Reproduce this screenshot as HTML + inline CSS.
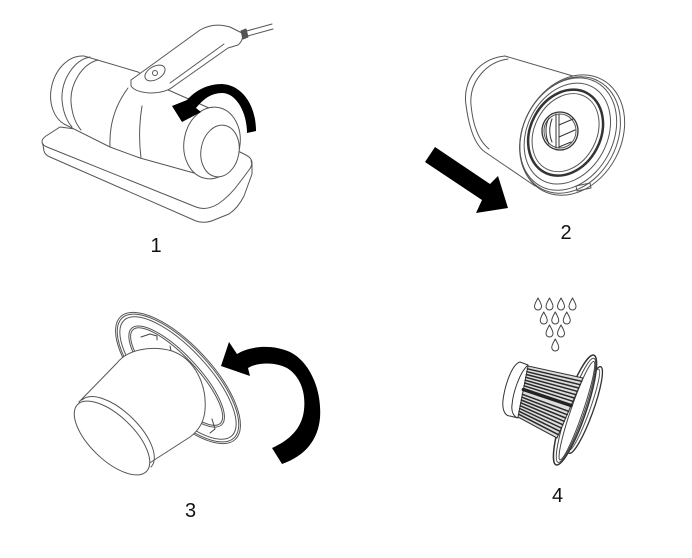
<!DOCTYPE html>
<html><head><meta charset="utf-8"><style>
html,body{margin:0;padding:0;background:#fff;}
svg{display:block;}
text{font-family:"Liberation Sans",sans-serif;font-size:20px;fill:#111;}
</style></head><body>
<svg width="692" height="558" viewBox="0 0 692 558" xmlns="http://www.w3.org/2000/svg">
<rect width="692" height="558" fill="#fff"/>
<g fill="#fff" stroke="#555" stroke-width="1" stroke-linejoin="round" stroke-linecap="round">

<!-- ============ IMAGE 1 ============ -->
<!-- base plate -->
<path d="M60,127 L46,136 Q40,140 43,145 L44,151 Q45,155 50,157 L196,221 Q205,224 214,220 L229,214 Q238,208 244,196 L252,174 L252,163 Q252,158 246,155 L236,150 Z"/>
<path fill="none" d="M43,144 Q44,146 47,147 L196,207 Q206,211 218,204 Q230,196 240,182 L249,170 Q253,165 251,161"/>
<!-- body -->
<path d="M84,56 L138,72 L166,89 L209,108 L238,132 L212,178 L140,158 L110,147 L64,124 C54,118 49,104 51,90 C54,70 68,55 84,56 Z"/>
<path fill="none" d="M90,57 C74,60 61,80 62,100 C63,112 66,120 72,127"/>
<path fill="none" d="M98,60 C82,64 70,84 71,102 C72,114 75,123 81,130"/>
<path fill="none" d="M128,88 C116,104 109,124 110,147"/>
<path fill="none" d="M142,106 C139,124 139,142 141,158"/>
<!-- front cap -->
<ellipse cx="212" cy="143" rx="28" ry="36" transform="rotate(10 212 143)"/>
<ellipse cx="220" cy="151" rx="19" ry="26" transform="rotate(10 220 151)"/>
<!-- handle -->
<path d="M131,80 L200,30 Q214,22 230,27 L242,33 Q244,40 238,45 L228,48 L174,86 Q166,93 150,93 Q135,92 131,86 Z"/>
<path fill="none" d="M170,83 L224,44"/>
<ellipse cx="155" cy="73" rx="11" ry="6.5" transform="rotate(-30 155 73)"/>
<circle cx="155" cy="73" r="2.5"/>
<path fill="none" d="M243,32 L272,24 M244,37 L273,29"/>
<path d="M241,31 L246,29 L248,37 L243,39 Z" fill="#555"/>
<!-- arrow 1 -->
<path fill="#000" stroke="none" d="M172,106 L187,100 C196,90 208,84 222,84 C242,85 256,105 256,131 L247,133 C247,112 236,93 222,93 C212,93 204,98 196,108 L201,112 L182,122 Z"/>

<!-- ============ IMAGE 2 ============ -->
<path d="M505,56 L600,84 L535,186 L485,152 C475,145 469,128 466,105 C462,80 480,58 505,56 Z"/>
<path fill="none" d="M508,59 C486,62 469,82 471,105 C473,126 479,141 489,149"/>
<g transform="translate(570,135) rotate(28)">
  <ellipse cx="2" cy="-1" rx="49" ry="63"/>
  <ellipse cx="0" cy="0" rx="47" ry="61" fill="none"/>
  <ellipse cx="-2" cy="0" rx="45" ry="59" fill="none"/>
  <ellipse cx="-3" cy="0" rx="40" ry="53" fill="none"/>
  <ellipse cx="-5" cy="0" rx="35" ry="45" fill="none" stroke="#333" stroke-width="2.5"/>
  <ellipse cx="-5" cy="0" rx="31" ry="41" fill="none"/>
</g>
<path d="M576,186 L590,183 L591,188 L577,191 Z" fill="none"/>
<ellipse cx="560" cy="131" rx="18" ry="19" stroke="#333" stroke-width="1.3"/>
<ellipse cx="560" cy="131" rx="16" ry="17" fill="none"/>
<path fill="none" stroke="#333" d="M556,114 L556,148 M559,114 L559,148 M559,125 L573,119 M559,137 L575,130 M559,147 L571,142"/>
<path fill="none" stroke="#333" d="M549,118 C545,125 545,136 549,144 M552,119 C549,126 549,135 552,142"/>
<!-- arrow 2 -->
<path fill="#000" stroke="none" d="M435,147 L490,184 L498,176 L508,208 L476,213 L482,200 L425,162 Z"/>

<!-- ============ IMAGE 3 ============ -->
<g transform="translate(178,378) rotate(47)">
  <ellipse rx="84" ry="34"/>
  <ellipse rx="82" ry="32.5" fill="none"/>
  <ellipse rx="79" ry="30" fill="none"/>
  <ellipse cx="-2" rx="66" ry="22" fill="none"/>
  <ellipse cx="-2" rx="64" ry="20" fill="none"/>
</g>
<path fill="none" stroke="#444" d="M141,337 L150,334 L157,336 L157,340 M170,346 L172,356 M212,419 L215,429 L210,433"/>
<!-- cylinder -->
<path d="M79,402 L117,363 C127,350 150,345 172,351 C195,359 207,385 205,410 C204,423 198,431 190,437 L148,464 Z"/>
<ellipse cx="112" cy="438" rx="48" ry="22" transform="rotate(44 112 438)"/>
<path fill="none" d="M82,400 A48,22 44 0 1 151,467"/>
<!-- arrow 3 -->
<path fill="#000" stroke="none" d="M221,366 L229,342 L237,354 C250,346 272,344 290,352 C310,362 322,390 320,418 C318,440 305,456 282,464 L272,448 C290,440 302,428 304,410 C306,392 300,376 287,368 C275,362 258,362 248,368 L250,376 Z"/>

<!-- ============ IMAGE 4 ============ -->
<g fill="#fff" stroke="#444">
<path d="M538,298 C539.5,301 541.5,303.5 541.5,306.5 A3.5,3.5 0 0 1 534.5,306.5 C534.5,303.5 536.5,301 538,298 Z"/>
<path d="M549.5,298 C551,301 553,303.5 553,306.5 A3.5,3.5 0 0 1 546,306.5 C546,303.5 548,301 549.5,298 Z"/>
<path d="M561,298 C562.5,301 564.5,303.5 564.5,306.5 A3.5,3.5 0 0 1 557.5,306.5 C557.5,303.5 559.5,301 561,298 Z"/>
<path d="M572.5,298 C574,301 576,303.5 576,306.5 A3.5,3.5 0 0 1 569,306.5 C569,303.5 571,301 572.5,298 Z"/>
<path d="M543.75,312 C545.25,315 547.25,317.5 547.25,320.5 A3.5,3.5 0 0 1 540.25,320.5 C540.25,317.5 542.25,315 543.75,312 Z"/>
<path d="M555.25,312 C556.75,315 558.75,317.5 558.75,320.5 A3.5,3.5 0 0 1 551.75,320.5 C551.75,317.5 553.75,315 555.25,312 Z"/>
<path d="M566.75,312 C568.25,315 570.25,317.5 570.25,320.5 A3.5,3.5 0 0 1 563.25,320.5 C563.25,317.5 565.25,315 566.75,312 Z"/>
<path d="M549.5,325 C551,328 553,330.5 553,333.5 A3.5,3.5 0 0 1 546,333.5 C546,330.5 548,328 549.5,325 Z"/>
<path d="M561,325 C562.5,328 564.5,330.5 564.5,333.5 A3.5,3.5 0 0 1 557.5,333.5 C557.5,330.5 559.5,328 561,325 Z"/>
<path d="M555.25,339 C556.75,342 558.75,344.5 558.75,347.5 A3.5,3.5 0 0 1 551.75,347.5 C551.75,344.5 553.75,342 555.25,339 Z"/>
</g>
<!-- back disc -->
<g transform="translate(585,410) rotate(20)">
  <ellipse rx="8" ry="46" stroke="#333" stroke-width="1.3"/>
  <ellipse cx="-1" rx="5.5" ry="43" fill="none"/>
</g>
<!-- flange -->
<g transform="translate(575,410) rotate(19)">
  <ellipse rx="11" ry="58" stroke="#333" stroke-width="1.5"/>
  <ellipse cx="1" rx="8.5" ry="55" fill="none" stroke="#444"/>
  <ellipse cx="2" rx="6" ry="52" fill="none" stroke="#444"/>
</g>
<!-- pleated body -->
<path d="M528,366 L583,378 L557,438 L518,417 Z" fill="#ddd" stroke="#333"/>
<g stroke="#2a2a2a" stroke-width="1.5" fill="none">
<path d="M527.4,368.8 L581.6,381.3 M526.9,371.7 L580.1,384.7 M526.3,374.5 L578.7,388 M525.8,377.3 L577.2,391.3 M525.2,380.2 L575.8,394.7 M524.7,383 L574.3,398 M524.1,385.8 L572.9,401.3 M522.4,394.3 L568.6,411.3 M521.9,397.2 L567.1,414.7 M521.3,400 L565.7,418 M520.8,402.8 L564.2,421.3 M520.2,405.7 L562.8,424.7 M519.7,408.5 L561.3,428 M519.1,411.3 L559.9,431.3 M518.6,414.2 L558.4,434.7"/>
<path d="M523.4,389.5 L571,405.5" stroke-width="3.5" stroke="#222"/>
</g>
<!-- front band -->
<path d="M520,362 L528,365 C520,372 513,392 512,405 C511,412 514,417 518,418 L510,416 C505,416 502,410 503,400 C505,385 512,364 520,362 Z" stroke="#333"/>

</g>

<text x="156" y="252" text-anchor="middle">1</text>
<text x="566" y="239" text-anchor="middle">2</text>
<text x="190.5" y="517" text-anchor="middle">3</text>
<text x="557.5" y="502" text-anchor="middle">4</text>
</svg>
</body></html>
